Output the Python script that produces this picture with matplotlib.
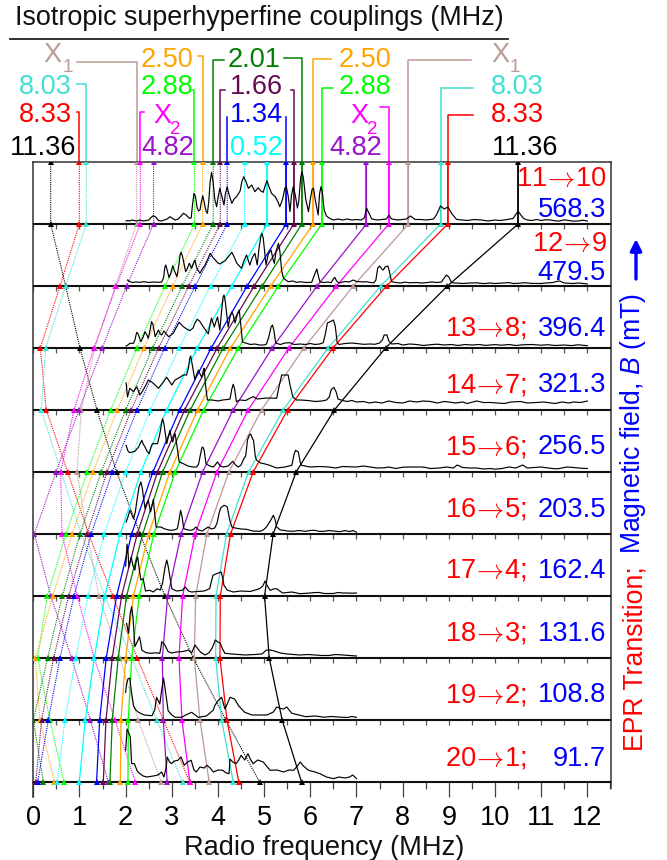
#!/usr/bin/python3

import matplotlib
matplotlib.use('Agg')
import matplotlib.pyplot as plt

plt.rcParams['font.family'] = ['Liberation Sans', 'DejaVu Sans']
plt.rcParams['mathtext.fontset'] = 'custom'
plt.rcParams['mathtext.rm'] = 'Liberation Sans'
plt.rcParams['mathtext.it'] = 'Liberation Sans:italic'

# EPR transitions, top row first
epr_labels = ['11$\\!\\rightarrow\\!$10', '12$\\!\\rightarrow\\!$9', '13$\\!\\rightarrow\\!$8;', '14$\\!\\rightarrow\\!$7;',
              '15$\\!\\rightarrow\\!$6;', '16$\\!\\rightarrow\\!$5;', '17$\\!\\rightarrow\\!$4;', '18$\\!\\rightarrow\\!$3;',
              '19$\\!\\rightarrow\\!$2;', '20$\\!\\rightarrow\\!$1;']
field_labels = ['568.3', '479.5', '396.4', '321.3', '256.5', '203.5', '162.4', '131.6', '108.8', '91.7']

# line positions (MHz) per row, low frequency branch (dotted)
low_black = [0.376, 0.70, 1.01, 1.379, 1.805, 2.31, 2.85, 3.466, 4.17, 4.90]
low_red = [0.997, 0.578, 0.152, 0.28, 0.745, 1.199, 1.72, 2.253, 2.816, 3.39]
low_turq = [1.148, 0.70, 0.268, 0.173, 0.60, 1.04, 1.55, 2.13, 2.67, 3.234]
low_x1 = [2.238, 1.78, 1.33, 1.04, 0.946, 1.17, 1.42, 1.877, 2.27, 2.77]
low_x2 = [2.317, 1.797, 1.314, 0.881, 0.593, 0.621, 0.95, 1.32, 1.77, 2.21]
low_482 = [2.605, 2.02, 1.494, 0.989, 0.491, 0.022, 0.38, 0.83, 1.235, 1.625]
low_288 = [3.49, 2.857, 2.245, 1.675, 1.169, 0.708, 0.303, 0.094, 0.36, 0.664]
low_250 = [3.666, 3.017, 2.396, 1.818, 1.292, 0.844, 0.42, 0.043, 0.144, 0.455]
low_201 = [3.897, 3.225, 2.584, 2.0, 1.472, 1.011, 0.628, 0.31, 0.0, 0.217]
low_166 = [4.05, 3.37, 2.714, 2.12, 1.595, 1.162, 0.766, 0.44, 0.18, 0.055]
low_134 = [4.2, 3.507, 2.844, 2.245, 1.71, 1.255, 0.881, 0.578, 0.325, 0.094]
low_052 = [4.575, 3.84, 3.16, 2.532, 2.0, 1.537, 1.184, 0.917, 0.686, 0.52]

# high frequency branch (solid)
high_052 = [5.065, 4.294, 3.55, 2.887, 2.331, 1.883, 1.55, 1.32, 1.126, 0.996]
high_134 = [5.477, 4.632, 3.853, 3.169, 2.591, 2.13, 1.805, 1.58, 1.437, 1.37]
high_166 = [5.643, 4.784, 3.983, 3.277, 2.691, 2.251, 1.913, 1.71, 1.574, 1.516]
high_201 = [5.816, 4.957, 4.113, 3.398, 2.8, 2.37, 2.02, 1.84, 1.71, 1.66]
high_250 = [6.06, 5.145, 4.27, 3.558, 2.959, 2.498, 2.17, 2.0, 1.9, 1.885]
high_288 = [6.25, 5.31, 4.443, 3.688, 3.074, 2.613, 2.296, 2.13, 2.058, 2.05]
high_482 = [7.216, 6.147, 5.173, 4.329, 3.666, 3.203, 2.91, 2.794, 2.816, 2.9]
high_x2 = [7.70, 6.567, 5.535, 4.654, 3.976, 3.507, 3.235, 3.155, 3.22, 3.39]
high_x1 = [8.125, 6.93, 5.86, 4.944, 4.236, 3.76, 3.516, 3.487, 3.61, 3.81]
high_turq = [8.82, 7.525, 6.385, 5.411, 4.662, 4.186, 3.957, 3.95, 4.08, 4.33]
high_red = [8.976, 7.65, 6.49, 5.506, 4.762, 4.273, 4.05, 4.043, 4.195, 4.45]
high_black = [10.5, 8.97, 7.63, 6.52, 5.693, 5.195, 5.009, 5.11, 5.39, 5.81]

c_black = 'black'
c_red = '#ff0000'
c_turq = '#40e0d0'
c_x1 = '#bc9a96'
c_x2 = '#ff00ff'
c_482 = '#9a12cc'
c_288 = '#00ff00'
c_250 = '#ffa500'
c_201 = '#008000'
c_166 = '#660a50'
c_134 = '#0000ff'
c_052 = '#00ffff'

low_lines = [(low_black, c_black), (low_red, c_red), (low_turq, c_turq), (low_x1, c_x1), (low_x2, c_x2),
             (low_482, c_482), (low_288, c_288), (low_250, c_250), (low_201, c_201), (low_166, c_166),
             (low_134, c_134), (low_052, c_052)]
high_lines = [(high_052, c_052), (high_134, c_134), (high_166, c_166), (high_201, c_201), (high_250, c_250),
              (high_288, c_288), (high_482, c_482), (high_x2, c_x2), (high_x1, c_x1), (high_turq, c_turq),
              (high_red, c_red), (high_black, c_black)]

# spectra: (frequency MHz, height above the row baseline in pixels of the original)
spec0 = [(2.01,3),(2.05,3.5),(2.09,3),(2.13,4),(2.18,3.5),(2.24,3),(2.31,4),(2.38,3),(2.44,3.5),(2.5,4),(2.55,6.5),(2.6,8.3),
         (2.65,7),(2.71,3.5),(2.77,3),(2.82,3.7),(2.9,5),(2.96,7.3),(3.02,5.5),(3.07,4),(3.14,5),(3.2,8),(3.25,10.7),(3.31,9),
         (3.38,5.7),(3.42,6),(3.45,20),(3.48,30.7),(3.51,28),(3.55,16),(3.58,13),(3.61,14),(3.64,22),(3.67,28.3),(3.7,22),
         (3.74,13),(3.77,10.7),(3.8,22),(3.83,42),(3.86,51.7),(3.89,44),(3.93,25),(3.97,17.3),(4.0,26),(4.04,35.7),(4.07,30),
         (4.13,19),(4.16,30),(4.2,37.3),(4.23,31),(4.3,20.7),(4.35,25),(4.4,27.3),(4.44,30),(4.48,33),(4.52,43),(4.56,47.3),
         (4.6,43),(4.66,35.7),(4.73,39),(4.8,32.3),(4.87,36.3),(4.93,33),(4.98,31.7),(5.02,38),(5.06,43.3),(5.1,38),(5.16,30.7),
         (5.24,27.3),(5.3,22),(5.34,17.3),(5.4,25),(5.45,36),(5.48,37.5),(5.52,28),(5.56,12.3),(5.59,28),(5.63,37.3),(5.67,30),
         (5.72,16),(5.75,23),(5.79,46),(5.82,52.3),(5.85,46),(5.9,25),(5.96,12.3),(6.0,25),(6.04,35),(6.07,35.7),(6.1,26),
         (6.17,9),(6.2,30),(6.23,37.3),(6.26,32),(6.3,14),(6.35,8),(6.42,5.6),(6.5,4),(6.6,5),(6.7,4),(6.8,5),(6.9,4),(7.0,4.5),
         (7.1,4),(7.17,6),(7.22,15.7),(7.28,10),(7.33,5),(7.45,4),(7.55,4.5),(7.65,5),(7.70,9),(7.76,5),(7.9,4),(8.0,4.5),
         (8.08,5),(8.17,8),(8.27,4.5),(8.4,4.5),(8.5,4),(8.6,4.5),(8.67,5),(8.73,9),(8.82,18),(8.9,15),(8.98,17),(9.07,10),
         (9.17,4.5),(9.3,4),(9.4,3.5),(9.55,4.5),(9.7,4),(9.85,3),(10,4),(10.1,3.5),(10.2,4),(10.39,5.5),(10.44,9),(10.5,13),
         (10.56,9),(10.62,5.5),(10.7,4),(10.8,3.5),(10.9,4.5),(11,3.5),(11.1,4.3),(11.2,4),(11.3,3.2),(11.4,3),(11.5,4.2),
         (11.6,3.5),(11.7,2.8),(11.8,3),(11.9,3.8),(12,3)]

spec1 = [(2.04,6),(2.09,4.5),(2.15,3.5),(2.22,4),(2.3,3.7),(2.4,4.3),(2.5,3.5),(2.6,4),(2.7,3.7),(2.78,4),(2.82,8),(2.85,19),
         (2.87,21),(2.91,14),(2.94,8.3),(2.98,13),(3.02,20.3),(3.05,16),(3.11,9.3),(3.15,20),(3.18,31),(3.2,33.7),(3.23,30),
         (3.3,14.3),(3.34,18),(3.38,22.7),(3.43,17.7),(3.47,23),(3.5,26),(3.54,18),(3.61,12.7),(3.66,17),(3.72,21),(3.78,27),
         (3.83,32.7),(3.9,28),(3.94,26),(4.0,23),(4.04,22),(4.1,24),(4.15,25),(4.22,29),(4.3,33.7),(4.34,30),(4.41,22.7),
         (4.46,20),(4.51,17.7),(4.56,25),(4.62,31),(4.66,25),(4.69,21),(4.74,28),(4.8,32.7),(4.85,21),(4.89,38),(4.93,50),
         (4.95,52.7),(4.98,48),(5.04,21),(5.09,32),(5.15,36),(5.19,27),(5.22,22.7),(5.26,35),(5.31,42.7),(5.34,35),(5.38,15),
         (5.42,7.7),(5.52,4.3),(5.62,5),(5.7,3.7),(5.8,4.2),(5.9,3.5),(6.03,3.7),(6.08,10),(6.14,17),(6.18,9),(6.21,4),(6.3,3.5),
         (6.38,4),(6.45,3.3),(6.5,7),(6.53,8.7),(6.57,5),(6.62,3),(6.7,4),(6.75,4.5),(6.84,4),(6.93,6),(7.0,4.5),(7.08,4.3),
         (7.15,4),(7.22,4.3),(7.3,3.5),(7.38,3.2),(7.42,6),(7.46,18),(7.5,20),(7.55,17),(7.58,16),(7.62,19),(7.68,20),(7.71,15),
         (7.76,4.3),(7.85,3.5),(7.95,3),(8.05,3.8),(8.15,3.2),(8.3,3.5),(8.4,3),(8.5,3.3),(8.62,4),(8.75,3.5),(8.84,4),(8.9,8),
         (8.95,11),(9.0,9),(9.06,3.3),(9.15,3),(9.3,2.5),(9.45,3),(9.6,3.2),(9.75,2.4),(9.9,3),(10,2.5),(10.15,3),(10.3,3.4),
         (10.4,2.5),(10.5,2.7),(10.65,3.3),(10.8,2.6),(11,2.5),(11.1,3),(11.26,3.5),(11.33,4.5),(11.4,5),(11.5,3),(11.6,2.8),
         (11.7,2.5),(11.8,3),(11.9,2.6),(12,2)]

spec2 = [(2.01,2),(2.05,3),(2.09,4.7),(2.17,4.7),(2.2,8),(2.24,15.7),(2.27,14),(2.33,6.3),(2.38,11),(2.42,16.3),(2.46,13),
         (2.49,9.7),(2.53,18),(2.56,26.3),(2.59,24),(2.64,11.3),(2.68,15),(2.71,18),(2.75,14),(2.78,13),(2.83,17),(2.88,14),
         (2.93,11.3),(2.98,13),(3.03,14.7),(3.09,20),(3.16,25.7),(3.25,21.3),(3.32,19),(3.39,17.3),(3.46,20),(3.5,25),(3.55,28.7),
         (3.6,27),(3.68,21.3),(3.79,14),(3.83,24),(3.86,30),(3.92,21),(3.96,27),(3.99,31),(4.04,18),(4.08,38),(4.11,51),(4.13,53),
         (4.16,46),(4.22,21),(4.26,31),(4.3,36),(4.33,33),(4.37,25),(4.42,34),(4.46,38),(4.49,25),(4.53,6),(4.62,4.7),(4.7,3.5),
         (4.8,4),(4.9,3),(5.0,3),(5.05,4),(5.1,11),(5.15,21),(5.18,23),(5.21,18),(5.25,5),(5.35,3.5),(5.45,5),(5.56,5.3),(5.65,3.5),
         (5.78,4),(5.9,3.5),(6.0,4.5),(6.1,3.5),(6.2,4),(6.28,5.3),(6.33,15),(6.37,25),(6.42,26),(6.5,28),(6.54,22),(6.58,6),
         (6.62,3.5),(6.75,4.5),(6.9,5),(7.0,4.5),(7.15,3.7),(7.3,4),(7.4,3.7),(7.5,5),(7.56,8),(7.6,13),(7.66,13),(7.7,7),(7.76,4),
         (7.9,4.5),(8.0,3),(8.15,4),(8.3,3.5),(8.45,2.5),(8.6,3.3),(8.75,3.8),(8.9,3),(9.05,3.5),(9.2,2.5),(9.35,3.5),(9.5,3),
         (9.65,3.5),(9.8,2.6),(10,3.4),(10.15,2.8),(10.3,3.5),(10.45,2.5),(10.6,3.2),(10.8,3.5),(11,2.8),(11.15,3.3),(11.3,2.5),
         (11.5,3),(11.65,2.4),(11.8,3.2),(12,2.3)]

spec3 = [(2.01,27),(2.04,13),(2.09,21.7),(2.13,20),(2.17,18.3),(2.24,23.3),(2.31,15),(2.38,20),(2.45,26),(2.49,30),(2.56,28),
         (2.6,26.7),(2.71,21.7),(2.8,27),(2.89,32.7),(3.0,25),(3.07,30),(3.14,31.7),(3.25,35),(3.32,35),(3.36,42),(3.39,52),
         (3.41,54),(3.44,46),(3.5,30),(3.54,36),(3.58,40),(3.62,35),(3.65,32.7),(3.68,39),(3.7,41.7),(3.73,25),(3.77,10),(3.87,10),
         (4.0,9),(4.1,10),(4.2,10.5),(4.26,11),(4.3,21),(4.33,25.7),(4.36,21),(4.4,8.3),(4.47,10),(4.6,9.5),(4.7,12),(4.77,13.3),
         (4.85,11),(4.99,11.7),(5.1,12),(5.27,11.7),(5.33,25),(5.38,35),(5.45,35),(5.52,35),(5.56,25),(5.62,13.3),(5.7,10),(5.78,10),
         (5.95,9.5),(6.1,8.5),(6.25,9),(6.35,10),(6.41,13),(6.45,20),(6.51,22.7),(6.56,18),(6.6,11),(6.7,9.5),(6.8,8.5),(6.9,9.5),
         (7,8),(7.15,8.5),(7.28,7),(7.4,8),(7.55,7),(7.7,9),(7.85,7.5),(8.0,7),(8.15,9),(8.3,8),(8.45,9),(8.6,8.5),(8.75,7),(8.9,8.5),
         (9.0,8),(9.15,7),(9.3,8),(9.4,6.5),(9.6,9),(9.75,7.5),(9.9,7.5),(10.05,7),(10.2,6.5),(10.35,8),(10.55,8.5),(10.7,7),(10.9,7.5),
         (11.05,8),(11.3,6.5),(11.45,8),(11.6,7),(11.7,8),(11.85,7.5),(12,9)]

spec4 = [(2.01,26.7),(2.05,21),(2.09,19.3),(2.2,20.7),(2.28,25),(2.32,29),(2.35,31.7),(2.38,28),(2.42,25),(2.46,21),(2.51,18.3),
         (2.55,25),(2.58,28.3),(2.69,28.3),(2.74,38),(2.78,49),(2.8,53.3),(2.83,48),(2.89,28.3),(2.93,36),(2.96,41.7),(3.0,32),
         (3.02,30),(3.05,36),(3.07,38.3),(3.1,30),(3.16,10),(3.25,8.3),(3.35,6),(3.45,5),(3.54,5),(3.58,8),(3.61,15),(3.65,24),
         (3.67,25),(3.7,22),(3.74,8.3),(3.82,6),(3.9,5),(3.99,10),(4.05,6),(4.12,5),(4.22,6),(4.32,10.7),(4.38,7),(4.44,5),(4.5,7),
         (4.56,13.3),(4.6,16),(4.64,32),(4.68,37),(4.71,38),(4.75,33),(4.77,31.7),(4.81,15),(4.84,11.7),(4.92,9),(5.0,8.3),(5.1,7),
         (5.27,4),(5.45,5),(5.6,6.7),(5.65,18),(5.68,21.7),(5.74,20),(5.78,10),(5.81,6.7),(5.99,5),(6.2,5.5),(6.4,5),(6.55,4),
         (6.7,5.5),(6.8,5.3),(7.0,5),(7.15,6),(7.3,5),(7.45,4),(7.6,4.2),(7.7,5),(7.85,3.5),(8.0,4.8),(8.2,5),(8.4,5),(8.5,4.5),
         (8.6,3.5),(8.8,4),(8.95,5),(9.1,4),(9.18,7),(9.3,4.5),(9.45,4),(9.6,4),(9.75,3),(9.9,3.5),(10,2.8),(10.15,3.5),(10.3,5),
         (10.45,4),(10.6,7),(10.7,4),(10.85,4.5),(11,5),(11.15,4),(11.3,3.2),(11.4,3.5),(11.55,5),(11.7,4.5),(11.85,3.8),(12,3.5)]

spec5 = [(2.01,12),(2.05,17),(2.09,23.7),(2.13,20),(2.17,15.3),(2.21,22),(2.25,35.3),(2.29,47),(2.33,52),(2.36,46),(2.42,25.3),
         (2.45,30),(2.49,33.7),(2.54,22),(2.58,30),(2.6,34.7),(2.63,20),(2.66,7),(2.76,7),(2.85,5),(2.96,3.7),(3.05,4),(3.12,5.3),
         (3.16,15),(3.19,23.7),(3.22,18),(3.26,5.3),(3.35,4),(3.43,3.7),(3.48,5),(3.52,7),(3.58,4),(3.66,3),(3.72,5),(3.79,7),
         (3.86,5),(3.93,6),(3.98,11),(4.03,22),(4.06,26),(4.13,28.7),(4.17,28),(4.2,27),(4.25,15),(4.3,7),(4.37,6),(4.5,5),(4.62,4.7),
         (4.75,3),(4.91,2.7),(4.98,4),(5.05,7),(5.12,12),(5.2,18.7),(5.24,14),(5.27,7),(5.35,4),(5.42,3.7),(5.5,3),(5.63,2.7),
         (5.75,3.5),(5.9,2.7),(6.0,3.5),(6.1,3.7),(6.2,2.6),(6.3,2.7),(6.4,3.5),(6.5,3),(6.6,2.5),(6.65,2.4),(6.75,3.4),(6.85,2.5),
         (6.93,3.4),(7.0,1.8)]

spec6 = [(2.0,30),(2.02,44),(2.03,52),(2.05,45),(2.07,29),(2.1,35),(2.12,39),(2.16,30),(2.2,26),(2.23,35),(2.26,39),(2.3,25),
         (2.33,16),(2.36,17),(2.38,17.3),(2.43,5),(2.52,5.7),(2.6,4),(2.68,7.3),(2.75,6),(2.8,13),(2.85,28),(2.89,36),(2.92,30),
         (3.0,7.3),(3.1,5),(3.23,5.7),(3.29,9),(3.36,5),(3.43,4),(3.55,4.5),(3.7,5),(3.82,7.3),(3.86,15),(3.89,20.7),(3.95,22),
         (4.07,24),(4.1,18),(4.13,10.7),(4.2,6),(4.33,4),(4.5,5),(4.7,4.5),(4.9,7.3),(4.97,10),(5.02,15),(5.07,10),(5.13,5.7),(5.2,7),
         (5.27,7.3),(5.4,3),(5.6,4),(5.78,2.3),(6.0,3),(6.1,3.5),(6.2,3.5),(6.3,2.5),(6.5,2.5),(6.6,3.5),(6.7,3),(6.8,3),(6.9,2.8),
         (7.0,3)]

spec7 = [(2.02,34.7),(2.04,30),(2.06,24.7),(2.1,45),(2.13,51.3),(2.16,40),(2.2,11.3),(2.25,16),(2.3,21.3),(2.33,14),(2.35,8),
         (2.43,5.5),(2.53,4.7),(2.65,5.2),(2.74,4.7),(2.77,12),(2.78,16.3),(2.85,13),(2.92,6.3),(3.0,5),(3.1,6),(3.21,6.3),(3.29,7),
         (3.36,8),(3.43,5),(3.5,13),(3.55,10),(3.62,6),(3.72,3),(3.8,5),(3.87,9.7),(3.92,15),(3.94,18),(4.0,16),(4.05,14.7),(4.1,9),
         (4.15,4.7),(4.3,4),(4.45,3.5),(4.6,3),(4.8,3.5),(4.95,4),(5.05,8),(5.13,8),(5.2,7.3),(5.35,5),(5.5,4),(5.77,3),(5.95,3.5),
         (6.1,3),(6.25,2.5),(6.4,2.5),(6.55,3.5),(6.7,3),(6.85,2.5),(7.0,2)]

spec8 = [(2.0,27.7),(2.02,36),(2.05,41),(2.09,42),(2.12,30),(2.17,14.3),(2.22,10),(2.28,7.7),(2.4,5),(2.57,4.3),(2.63,10),
         (2.67,22.7),(2.74,16),(2.78,30),(2.82,42),(2.85,33),(2.92,9.3),(3.0,5),(3.07,2.7),(3.21,2.7),(3.3,5),(3.43,7.7),(3.57,2.7),
         (3.75,4),(3.9,10),(3.93,14.3),(4.0,19.3),(4.08,22.7),(4.15,11),(4.21,17),(4.26,22.7),(4.36,21),(4.45,14),(4.58,7.7),(4.74,5),
         (4.9,5),(5.06,5),(5.2,8),(5.27,13),(5.34,11.7),(5.42,11),(5.49,13),(5.6,6.7),(5.75,5),(5.9,3.3),(6.1,4),(6.3,2.8),(6.45,3.5),
         (6.6,3),(6.8,2.5),(6.9,3.5),(7.0,2.7)]

spec9 = [(2.0,31.7),(2.02,45),(2.03,53),(2.06,50),(2.1,45),(2.13,18.3),(2.19,18.3),(2.25,11),(2.31,8.3),(2.38,6),(2.46,5),(2.6,6),
         (2.7,7),(2.78,10),(2.83,5),(2.88,15),(2.9,25),(2.95,20),(2.99,18.3),(3.06,21),(3.13,21.7),(3.2,25),(3.27,16.7),(3.34,20),
         (3.42,21.7),(3.48,12),(3.53,10),(3.61,15),(3.7,14),(3.76,16.7),(3.83,14),(3.9,10),(4.0,12),(4.1,11.7),(4.18,9),(4.24,8.3),
         (4.26,23),(4.32,20),(4.39,18.3),(4.45,22),(4.5,26.7),(4.58,22),(4.65,28.3),(4.7,23),(4.76,18.3),(4.86,22),(4.98,20),(5.05,16),
         (5.13,11.7),(5.28,12),(5.42,10),(5.54,12),(5.64,11.7),(5.72,16),(5.78,20),(5.85,16),(5.96,11.7),(6.1,10),(6.21,8.3),(6.35,5),
         (6.5,3.3),(6.62,5),(6.75,4),(6.85,5),(6.92,7),(7.0,3.3)]

spectra = [spec0, spec1, spec2, spec3, spec4, spec5, spec6, spec7, spec8, spec9]

# coupling labels above the plot: text, colour, centre x px, baseline y px
top_labels = [
    ('11.36', c_black, 43.3, 155), ('8.33', c_red, 45.3, 122), ('8.03', c_turq, 45.3, 94.3),
    ('2.50', c_250, 167.5, 66.7), ('2.88', c_288, 167.5, 94.3), ('4.82', c_482, 167.5, 155),
    ('2.01', c_201, 254, 66.7), ('1.66', c_166, 256.5, 94.3), ('1.34', c_134, 256.5, 122), ('0.52', c_052, 256.5, 155),
    ('2.50', c_250, 365.3, 66.7), ('2.88', c_288, 365.3, 94.3), ('4.82', c_482, 356, 155),
    ('8.03', c_turq, 517, 94.3), ('8.33', c_red, 517, 122), ('11.36', c_black, 525, 155)]
# X labels: letter, subscript, colour, x of letter, x of subscript, baseline y
x_labels = [('X', '1', c_x1, 43, 63, 62), ('X', '2', c_x2, 153, 170, 123),
            ('X', '2', c_x2, 350, 366.7, 123), ('X', '1', c_x1, 491.7, 510, 62)]

# leader lines from the top markers: line x, colour, top y px, end of the horizontal stub px
leaders = [(low_x1[0], c_x1, 62, 77), (low_turq[0], c_turq, 84, 76.7), (low_red[0], c_red, 111.7, 76.7),
           (low_x2[0], c_x2, 111.7, 143.7), (low_288[0], c_288, 90, 193), (low_250[0], c_250, 56, 198),
           (low_201[0], c_201, 60, 224), (low_166[0], c_166, 90, 225.3), (low_134[0], c_134, 116.7, None),
           (high_134[0], c_134, 117, None), (high_166[0], c_166, 90, 291), (high_201[0], c_201, 57.7, 284),
           (high_250[0], c_250, 59.3, 330.7), (high_288[0], c_288, 87.7, 333.3), (high_x2[0], c_x2, 107.3, 380),
           (high_x1[0], c_x1, 60, 471), (high_turq[0], c_turq, 87.7, 472.7), (high_red[0], c_red, 115, 473.3)]

W, H = 667, 860
LEFT, RIGHT, TOP, BOTTOM = 33.3, 611, 162, 797
PX_X = 46.17
PX_Y = 62.0
n_rows = len(epr_labels)


def px2x(p):
    return (p - LEFT) / PX_X


def px2y(p):
    return n_rows + (TOP - p) / PX_Y


def figtext(xp, yp, s, **kw):
    return fig.text(xp / W, 1 - yp / H, s, **kw)


fig = plt.figure(figsize=(W / 100, H / 100), dpi=100)
ax = fig.add_axes([LEFT / W, 1 - BOTTOM / H, (RIGHT - LEFT) / W, (BOTTOM - TOP) / H])
ax.set_xlim(0, (RIGHT - LEFT) / PX_X)
ax.set_ylim(px2y(BOTTOM), n_rows)
ax.set_yticks([])

for name in ax.spines:
    ax.spines[name].set_linewidth(1.1)
    ax.spines[name].set_color('#333333')
ax.spines['bottom'].set_position(('data', 0))
ax.spines['left'].set_bounds(px2y(BOTTOM), n_rows)
ax.spines['right'].set_bounds(px2y(788), n_rows)

ax.set_xticks(range(13))
ax.set_xticks([i + 0.5 for i in range(12)] + [12.5], minor=True)
ax.tick_params(axis='x', which='major', length=10.5, width=0.9, pad=6, labelsize=19.5, color='#444444')
ax.tick_params(axis='x', which='minor', length=5, width=0.9, color='#444444')

baselines = [n_rows - 1 - r for r in range(n_rows)]
ys = [n_rows] + baselines

# coupling lines, row to row
for values, colour in low_lines:
    ax.plot([values[0]] + values, ys, ls=(0, (1, 1)), lw=0.8, color=colour, zorder=2)
    ax.plot([values[0]] + values, ys, ls='none', marker='^', ms=3.8, mew=0, color=colour, zorder=4)
for values, colour in high_lines:
    ax.plot([values[0]] + values, ys, ls='-', lw=0.9, color=colour, zorder=2)
    ax.plot([values[0]] + values, ys, ls='none', marker='^', ms=3.8, mew=0, color=colour, zorder=4)
    # the first row is drawn heavier
    ax.plot([values[0], values[0]], ys[:2], ls='-', lw=1.4, alpha=0.8, color=colour, zorder=2)

# row baselines with ticks
ax.hlines(baselines, 0, ax.get_xlim()[1], color='#111111', lw=1.5, zorder=3)
for base in baselines[:-1]:
    tick_x = [i * 0.5 for i in range(25)]
    ax.vlines(tick_x, base - 5 / PX_Y, base, color='#555555', lw=0.9, zorder=1)

# spectra
for r in range(n_rows):
    xs = [p[0] for p in spectra[r]]
    hs = [baselines[r] + p[1] / PX_Y for p in spectra[r]]
    ax.plot(xs, hs, color='black', lw=0.85, zorder=5)

# leaders
for xv, colour, ytop, xend in leaders:
    xs = [xv, xv]
    yl = [n_rows, px2y(ytop)]
    if xend is not None:
        xs.append(px2x(xend))
        yl.append(px2y(ytop))
    ax.plot(xs, yl, color=colour, lw=1.1, clip_on=False, zorder=2)

for s, colour, xp, yp in top_labels:
    figtext(xp, yp, s, color=colour, fontsize=19.5, ha='center', va='baseline')
for letter, sub, colour, xp, xs_p, yp in x_labels:
    figtext(xp, yp, letter, color=colour, fontsize=19.5, ha='left', va='baseline')
    figtext(xs_p, yp + 10.5, sub, color=colour, fontsize=13.5, ha='left', va='baseline')

figtext(15, 25, 'Isotropic superhyperfine couplings (MHz)', fontsize=19.4, ha='left', va='baseline', color='#111111')
fig.add_artist(plt.Line2D([10 / W, 507.7 / W], [1 - 38.5 / H, 1 - 38.5 / H], color='#222222', lw=1.3))

# row labels
epr_y = [186, 251, 335.5, 392.5, 454.5, 517, 577.5, 641, 702.5, 765.5]
field_y = [217, 279.5, 335.5, 392.5, 454.5, 517, 577.5, 641, 702.5, 765.5]
for r in range(n_rows):
    xp = 606.5 if r < 2 else 526.7
    figtext(xp, epr_y[r], epr_labels[r], color='red', fontsize=19.6, ha='right', va='baseline', math_fontfamily='cm')
    figtext(606, field_y[r], field_labels[r], color='blue', fontsize=19.6, ha='right', va='baseline')

figtext(324, 855, 'Radio frequency (MHz)', fontsize=19.6, ha='center', va='baseline', color='#111111')

figtext(648, 750.7, 'EPR Transition;', color='red', fontsize=19.2, rotation=90, ha='right', va='bottom')
figtext(648, 293, 'Magnetic field, $B$ (mT)', color='blue', fontsize=19.2, rotation=90, ha='right', va='top')
ax.annotate('', xy=(636 / W, 1 - 239 / H), xytext=(636 / W, 1 - 279 / H), xycoords='figure fraction',
            arrowprops=dict(arrowstyle='-|>', color='blue', lw=2.4, mutation_scale=17, shrinkA=0, shrinkB=0))

fig.savefig('out.png', dpi=100)
